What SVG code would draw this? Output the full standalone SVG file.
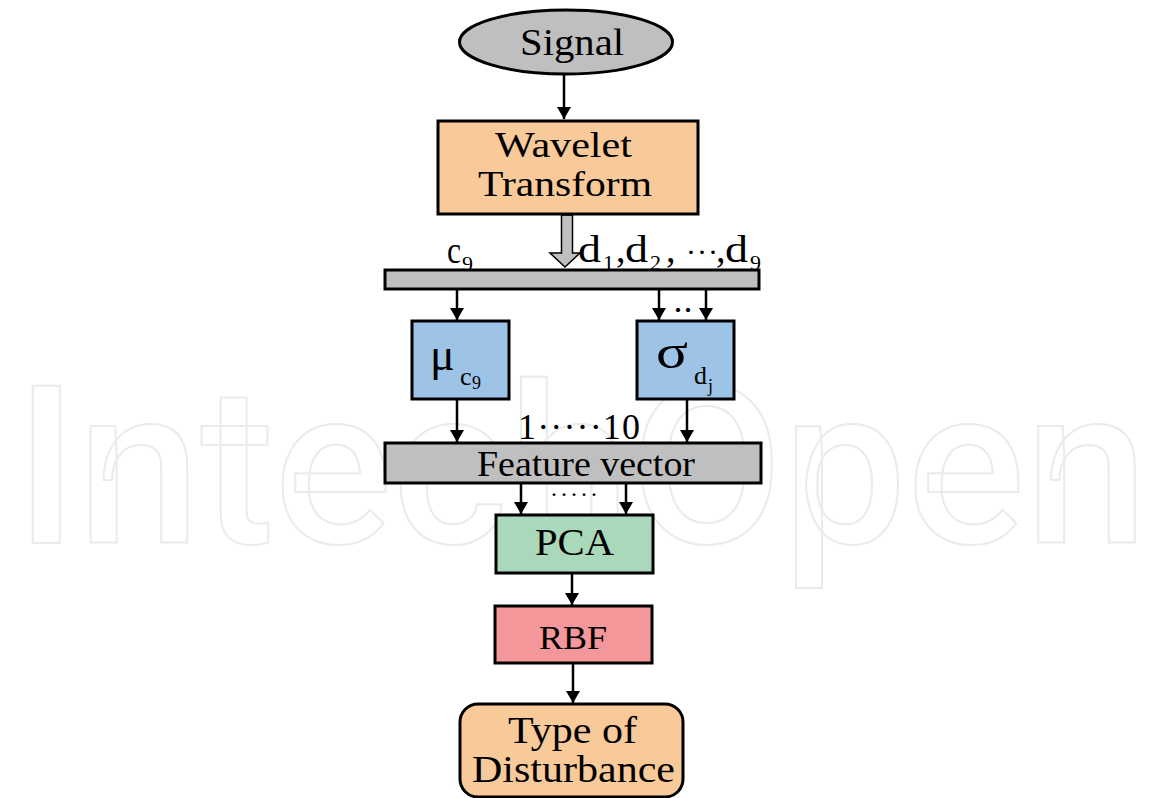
<svg xmlns="http://www.w3.org/2000/svg" width="1150" height="798" viewBox="0 0 1150 798">
<defs>
<marker id="ah" viewBox="0 0 12 14" refX="12" refY="7" markerWidth="12" markerHeight="14" markerUnits="userSpaceOnUse" orient="auto">
<path d="M0,0 L12,7 L0,14 Z" fill="#000"/>
</marker>
</defs>
<style>
.box{stroke:#000;stroke-width:3}
.lbl{font-family:"Liberation Serif","Times New Roman",serif;fill:#000}
.con{stroke:#000;stroke-width:2.5;fill:none;marker-end:url(#ah)}
.wm{font-family:Roboto,"Noto Sans",sans-serif;font-size:220px;font-weight:500;fill:#fff;stroke:#ebebeb;stroke-width:2}
</style>
<rect width="1150" height="798" fill="#fff"/>
<text class="wm" x="15" y="543" textLength="1133" lengthAdjust="spacingAndGlyphs">IntechOpen</text>

<g id="connectors">
<line class="con" x1="564" y1="75" x2="564" y2="119"/>
<path d="M561.5,215 L572.5,215 L572.5,253 L580,253 L565,267 L550,253 L561.5,253 Z" fill="#bfbfbf" stroke="#000" stroke-width="1.5"/>
<line class="con" x1="457" y1="290" x2="457" y2="320"/>
<line class="con" x1="659" y1="290" x2="659" y2="320"/>
<line class="con" x1="706" y1="290" x2="706" y2="320"/>
<line class="con" x1="457" y1="400" x2="457" y2="442"/>
<line class="con" x1="687" y1="400" x2="687" y2="442"/>
<line class="con" x1="521" y1="484" x2="521" y2="514"/>
<line class="con" x1="626" y1="484" x2="626" y2="514"/>
<line class="con" x1="572" y1="574" x2="572" y2="605"/>
<line class="con" x1="573" y1="664" x2="573" y2="703"/>
</g>

<g id="signal">
<ellipse cx="566" cy="42" rx="106.5" ry="32" fill="#bfbfbf" class="box" stroke-width="2.5"/>
<text class="lbl" x="520" y="55" font-size="37" textLength="104" lengthAdjust="spacingAndGlyphs">Signal</text>
</g>

<g id="wavelet">
<rect x="438" y="121" width="260" height="93" fill="#f8c999" class="box"/>
<text class="lbl" x="495" y="157" font-size="36" textLength="137" lengthAdjust="spacingAndGlyphs">Wavelet</text>
<text class="lbl" x="478" y="196" font-size="36" textLength="174" lengthAdjust="spacingAndGlyphs">Transform</text>
</g>

<g id="coeff-bar">
<rect x="385" y="270" width="374" height="19" fill="#bfbfbf" class="box"/>
<text class="lbl" x="447" y="263" font-size="38" textLength="14" lengthAdjust="spacingAndGlyphs">c</text>
<text class="lbl" x="462" y="271" font-size="22">9</text>
<text class="lbl" x="578" y="262" font-size="38" textLength="23" lengthAdjust="spacingAndGlyphs">d</text>
<text class="lbl" x="603" y="270" font-size="22">1</text>
<text class="lbl" x="616" y="262" font-size="38">,</text>
<text class="lbl" x="625" y="262" font-size="38" textLength="23" lengthAdjust="spacingAndGlyphs">d</text>
<text class="lbl" x="650" y="270" font-size="22">2</text>
<text class="lbl" x="666" y="262" font-size="38">,</text>
<text class="lbl" x="686" y="262" font-size="30" textLength="32">···</text>
<text class="lbl" x="716" y="262" font-size="38">,</text>
<text class="lbl" x="725" y="262" font-size="38" textLength="23" lengthAdjust="spacingAndGlyphs">d</text>
<text class="lbl" x="750" y="270" font-size="22">9</text>
<text class="lbl" x="672" y="322" font-size="36" textLength="22">··</text>
</g>

<g id="mu">
<rect x="412" y="321" width="97" height="78" fill="#9dc3e6" class="box"/>
<text class="lbl" x="430" y="370" font-size="46">μ</text>
<text class="lbl" x="460" y="385" font-size="26">c</text>
<text class="lbl" x="472" y="389" font-size="18">9</text>
</g>

<g id="sigma">
<rect x="637" y="321" width="97" height="78" fill="#9dc3e6" class="box"/>
<text class="lbl" x="656" y="368" font-size="48" textLength="32" lengthAdjust="spacingAndGlyphs">σ</text>
<text class="lbl" x="694" y="384" font-size="26">d</text>
<text class="lbl" x="708" y="392" font-size="18">j</text>
</g>

<g id="feature-vector">
<text class="lbl" x="518" y="439" font-size="36" textLength="122">1·····10</text>
<rect x="385" y="443" width="376" height="40" fill="#bfbfbf" class="box"/>
<text class="lbl" x="477" y="476" font-size="35" textLength="218" lengthAdjust="spacingAndGlyphs">Feature vector</text>
<text class="lbl" x="550" y="502" font-size="24" textLength="48">·····</text>
</g>

<g id="pca">
<rect x="496" y="515" width="157" height="58" fill="#a9d8bb" class="box"/>
<text class="lbl" x="535" y="555" font-size="37" textLength="79" lengthAdjust="spacingAndGlyphs">PCA</text>
</g>

<g id="rbf">
<rect x="495" y="606" width="157" height="57" fill="#f4979a" class="box"/>
<text class="lbl" x="539" y="649" font-size="34" textLength="68" lengthAdjust="spacingAndGlyphs">RBF</text>
</g>

<g id="type">
<rect x="460" y="704" width="223" height="93" rx="18" ry="18" fill="#f8c999" class="box"/>
<text class="lbl" x="508" y="743" font-size="38" textLength="129" lengthAdjust="spacingAndGlyphs">Type of</text>
<text class="lbl" x="472" y="782" font-size="38" textLength="203" lengthAdjust="spacingAndGlyphs">Disturbance</text>
</g>
</svg>
